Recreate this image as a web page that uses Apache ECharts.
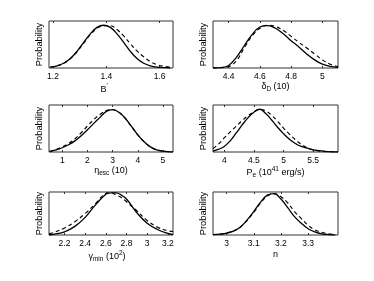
<!DOCTYPE html>
<html><head><meta charset="utf-8">
<script src="https://cdn.jsdelivr.net/npm/echarts@6/dist/echarts.min.js"></script>
<style>html,body{margin:0;padding:0;background:#fff}#c{width:374px;height:281px}</style>
</head><body><div id="c"></div>
<script>
// ---- Panel 1: B' ----
const bRange = [1.185, 1.65];
const bTicks = [1.2, 1.4, 1.6];
const bX = [1.19,1.215,1.24,1.265,1.29,1.315,1.34,1.365,1.39,1.415,1.44,1.465,1.49,1.515,1.54,1.565,1.59,1.615,1.64];
const bSolid = [0.02,0.05,0.11,0.22,0.39,0.6,0.8,0.95,1.0,0.95,0.8,0.6,0.39,0.22,0.11,0.05,0.02,0.01,0.0];
const bDashed = [0.02,0.05,0.11,0.22,0.38,0.58,0.78,0.93,0.99,0.99,0.9,0.75,0.57,0.4,0.26,0.15,0.08,0.04,0.02];

// ---- Panel 2: delta_D ----
const dRange = [4.3, 5.1];
const dTicks = [4.4, 4.6, 4.8, 5];
const dX = [4.30,4.35,4.40,4.45,4.50,4.55,4.60,4.65,4.70,4.75,4.80,4.85,4.90,4.95,5.00,5.05,5.10];
const dSolid = [0.0,0.01,0.06,0.25,0.52,0.78,0.96,0.99,0.93,0.8,0.64,0.49,0.33,0.19,0.09,0.04,0.015];
const dDashed = [0.0,0.005,0.03,0.17,0.47,0.75,0.93,1.0,0.97,0.88,0.74,0.6,0.47,0.33,0.19,0.09,0.03];

// ---- Panel 3: eta_esc ----
const eRange = [0.47, 5.4];
const eTicks = [1, 2, 3, 4, 5];
const eX = [0.5,0.75,1.0,1.25,1.5,1.75,2.0,2.25,2.5,2.75,3.0,3.25,3.5,3.75,4.0,4.25,4.5,4.75,5.0,5.25,5.4];
const eSolid = [0.01,0.05,0.1,0.17,0.26,0.38,0.52,0.67,0.81,0.95,0.99,0.93,0.79,0.6,0.4,0.24,0.12,0.05,0.02,0.005,0.0];
const eDashed = [0.015,0.06,0.12,0.2,0.31,0.45,0.61,0.76,0.88,0.97,0.99,0.93,0.79,0.59,0.4,0.24,0.12,0.05,0.02,0.005,0.0];

// ---- Panel 4: P_e ----
const pRange = [3.81, 5.92];
const pTicks = [4, 4.5, 5, 5.5];
const pX = [3.81,3.9,4.0,4.1,4.2,4.3,4.4,4.5,4.6,4.7,4.8,4.9,5.0,5.1,5.2,5.3,5.4,5.5,5.6,5.7,5.8,5.92];
const pSolid = [0.02,0.06,0.13,0.26,0.44,0.63,0.8,0.93,1.0,0.9,0.75,0.58,0.43,0.3,0.2,0.13,0.09,0.05,0.03,0.015,0.005,0.0];
const pDashed = [0.08,0.18,0.33,0.47,0.6,0.73,0.85,0.94,1.0,0.96,0.86,0.72,0.56,0.42,0.29,0.18,0.1,0.05,0.025,0.01,0.005,0.0];

// ---- Panel 5: gamma_min ----
const gRange = [2.05, 3.25];
const gTicks = [2.2, 2.4, 2.6, 2.8, 3, 3.2];
const gX = [2.05,2.1,2.2,2.3,2.4,2.5,2.6,2.65,2.7,2.75,2.8,2.9,3.0,3.1,3.2,3.25];
const gSolid = [0.0,0.02,0.08,0.22,0.45,0.77,1.04,1.08,1.08,1.02,0.92,0.57,0.3,0.14,0.04,0.01];
const gDashed = [0.03,0.07,0.18,0.34,0.55,0.8,1.06,1.08,1.02,0.96,0.85,0.62,0.37,0.2,0.11,0.09];

// ---- Panel 6: n ----
const nRange = [2.95, 3.41];
const nTicks = [3, 3.1, 3.2, 3.3];
const nX = [2.95,2.975,3.0,3.025,3.05,3.075,3.1,3.125,3.15,3.175,3.2,3.225,3.25,3.275,3.3,3.325,3.35,3.375,3.4];
const nSolid = [0.01,0.02,0.05,0.1,0.2,0.38,0.6,0.84,1.02,1.06,0.92,0.7,0.47,0.3,0.16,0.08,0.03,0.01,0.0];
const nDashed = [0.01,0.02,0.05,0.1,0.2,0.37,0.58,0.82,1.0,1.06,0.98,0.82,0.6,0.42,0.25,0.13,0.07,0.03,0.01];

const yMax = 1.1;
const FONT = 'Liberation Sans';

const rich = {
  t: {fontSize: 9, fontFamily: FONT, color: '#000'},
  sub: {fontSize: 6.5, fontFamily: FONT, color: '#000', padding: [6, 0, 0, 0]},
  sup: {fontSize: 6.5, fontFamily: FONT, color: '#000', padding: [0, 0, 6, 0]}
};

const panels = [
  {grid: {left: 49, top: 21, width: 124, height: 47}, range: bRange, ticks: bTicks, x: bX, s: bSolid, d: bDashed,
   name: "{t|B}{sup|'}", gap: 15, pad: [0, 14, 0, 0]},
  {grid: {left: 213, top: 21, width: 125, height: 47}, range: dRange, ticks: dTicks, x: dX, s: dSolid, d: dDashed,
   name: '{t|δ}{sub|D}{t| (10)}', gap: 8, pad: 0},
  {grid: {left: 49, top: 105, width: 124, height: 47}, range: eRange, ticks: eTicks, x: eX, s: eSolid, d: eDashed,
   name: '{t|η}{sub|esc}{t| (10)}', gap: 11, pad: 0},
  {grid: {left: 213, top: 105, width: 125, height: 47}, range: pRange, ticks: pTicks, x: pX, s: pSolid, d: pDashed,
   name: '{t|P}{sub|e}{t| (10}{sup|41}{t| erg/s)}', gap: 8, pad: 0},
  {grid: {left: 49, top: 192, width: 124, height: 43}, range: gRange, ticks: gTicks, x: gX, s: gSolid, d: gDashed,
   name: '{t|γ}{sub|min}{t| (10}{sup|2}{t|)}', gap: 15, pad: [0, 8, 0, 0]},
  {grid: {left: 213, top: 192, width: 125, height: 43}, range: nRange, ticks: nTicks, x: nX, s: nSolid, d: nDashed,
   name: '{t|n}', gap: 15, pad: 0}
];

const fmt = v => String(+(+v).toFixed(2));

const grid = [], xAxis = [], yAxis = [], series = [];
panels.forEach((p, i) => {
  grid.push(Object.assign({show: true, borderColor: '#333', borderWidth: 1, backgroundColor: 'transparent'}, p.grid));
  xAxis.push({
    type: 'value', gridIndex: i, min: p.range[0], max: p.range[1], position: 'bottom',
    axisLine: {show: false}, splitLine: {show: false},
    axisTick: {show: true, inside: true, length: 2, customValues: p.ticks, lineStyle: {color: '#333'}},
    axisLabel: {show: true, customValues: p.ticks, formatter: fmt, margin: 4, fontSize: 8.5, fontFamily: FONT, color: '#000'},
    name: p.name, nameLocation: 'middle', nameGap: p.gap,
    nameTextStyle: {rich: rich, padding: p.pad}
  });
  xAxis.push({
    type: 'value', gridIndex: i, min: p.range[0], max: p.range[1], position: 'top',
    axisLine: {show: false}, splitLine: {show: false},
    axisTick: {show: true, inside: true, length: 2, customValues: p.ticks, lineStyle: {color: '#333'}},
    axisLabel: {show: false}
  });
  yAxis.push({
    type: 'value', gridIndex: i, min: 0, max: yMax,
    axisLine: {show: false}, axisTick: {show: false}, axisLabel: {show: false}, splitLine: {show: false},
    name: 'Probability', nameLocation: 'middle', nameGap: 5,
    nameTextStyle: {fontSize: 9.3, fontFamily: FONT, color: '#000'}
  });
  const solid = p.x.map((v, k) => [v, p.s[k]]);
  const dashed = p.x.map((v, k) => [v, p.d[k]]);
  series.push({type: 'line', xAxisIndex: 2 * i, yAxisIndex: i, data: solid, showSymbol: false, smooth: 0.4,
    lineStyle: {color: '#000', width: 1.3}, silent: true, animation: false});
  series.push({type: 'line', xAxisIndex: 2 * i, yAxisIndex: i, data: dashed, showSymbol: false, smooth: 0.4,
    lineStyle: {color: '#000', width: 1.15, type: [4, 3]}, silent: true, animation: false});
});

const chart = echarts.init(document.getElementById('c'), null, {renderer: 'canvas'});
chart.setOption({animation: false, backgroundColor: '#fff', grid, xAxis, yAxis, series});
</script>
</body></html>
